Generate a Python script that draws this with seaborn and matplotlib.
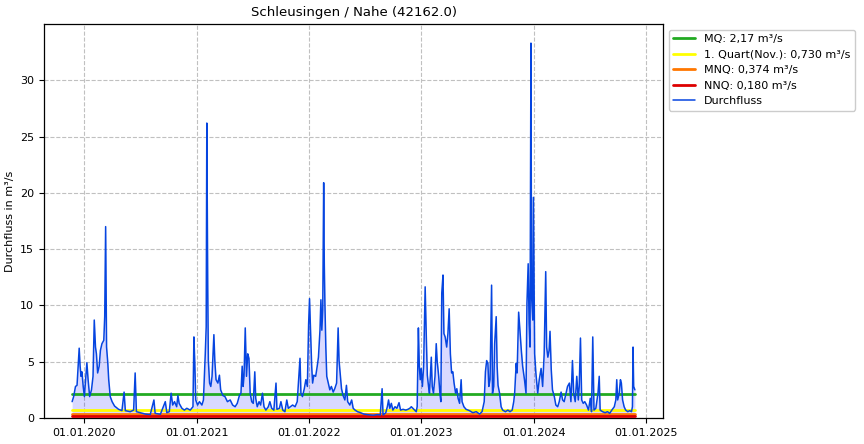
import matplotlib
matplotlib.use("Agg")
import matplotlib.pyplot as plt
import matplotlib.dates as mdates
import seaborn as sns
import pandas as pd

title = "Schleusingen / Nahe (42162.0)"
ylabel = "Durchfluss in m³/s"
flow_label = "Durchfluss"

ref_names = ["MQ: 2,17 m³/s", "1. Quart(Nov.): 0,730 m³/s", "MNQ: 0,374 m³/s", "NNQ: 0,180 m³/s"]
ref_values = [2.17, 0.730, 0.374, 0.180]
ref_colors = ["#22aa22", "#ffff00", "#ff7700", "#dd0000"]

tick_years = ["2020-01-01", "2021-01-01", "2022-01-01", "2023-01-01", "2024-01-01", "2025-01-01"]

dates_a = ["2019-11-22","2019-11-27","2019-12-03","2019-12-08","2019-12-11","2019-12-15","2019-12-18","2019-12-21","2019-12-24","2019-12-28",
           "2020-01-01","2020-01-04","2020-01-09","2020-01-13","2020-01-18","2020-01-24","2020-01-29","2020-02-02","2020-02-06","2020-02-09",
           "2020-02-13","2020-02-18","2020-02-22","2020-02-27","2020-03-04","2020-03-07","2020-03-10","2020-03-13","2020-03-17","2020-03-20",
           "2020-03-25","2020-03-31","2020-04-08","2020-04-21","2020-05-02","2020-05-09","2020-05-13","2020-05-29","2020-06-09","2020-06-14",
           "2020-06-18","2020-07-01","2020-07-17","2020-08-02","2020-08-14","2020-08-18","2020-09-04","2020-09-20","2020-09-25","2020-10-03",
           "2020-10-09","2020-10-14","2020-10-20","2020-10-27","2020-10-31","2020-11-04","2020-11-13","2020-11-21"]
flow_a = [1.45,1.9,2.8,2.9,4.3,6.2,4.6,3.7,4.1,2.8,
          1.9,3.1,4.9,3.4,1.9,2.5,3.7,8.7,6.3,5.7,
          4.0,4.6,6.0,6.6,6.9,9.0,17.0,6.3,4.9,3.4,
          1.9,1.45,1.06,0.77,0.65,2.3,0.65,0.56,0.7,4.0,
          0.56,0.47,0.35,0.3,1.6,0.41,0.33,1.45,0.47,0.56,
          2.2,1.15,1.45,1.0,2.0,1.3,0.86,0.7]

dates_b = ["2020-11-29","2020-12-10","2020-12-19","2020-12-22","2020-12-25","2020-12-28","2021-01-03","2021-01-09","2021-01-17","2021-01-22",
           "2021-01-28","2021-01-31","2021-02-02","2021-02-05","2021-02-07","2021-02-11","2021-02-15","2021-02-19","2021-02-25","2021-02-28",
           "2021-03-04","2021-03-10","2021-03-15","2021-03-19","2021-03-26","2021-04-02","2021-04-10","2021-04-19","2021-04-27","2021-05-05",
           "2021-05-12","2021-05-19","2021-05-24","2021-05-28","2021-05-31","2021-06-03","2021-06-07","2021-06-11","2021-06-15","2021-06-19",
           "2021-06-23","2021-06-28","2021-07-03","2021-07-08","2021-07-11","2021-07-16","2021-07-22","2021-07-27","2021-08-02","2021-08-07",
           "2021-08-13","2021-08-21","2021-08-26","2021-09-01","2021-09-08","2021-09-15","2021-09-18","2021-09-26","2021-10-01","2021-10-07",
           "2021-10-14","2021-10-20","2021-10-25","2021-11-01","2021-11-08","2021-11-16","2021-11-23"]
flow_b = [0.86,0.7,1.0,7.2,4.85,1.6,1.15,1.45,1.15,1.6,
          5.7,8.1,26.2,11.7,5.1,3.1,2.8,3.7,7.4,5.1,
          3.4,3.1,3.8,2.5,2.0,1.9,1.45,1.6,1.15,1.0,
          1.3,2.0,2.2,4.6,2.8,3.7,8.0,3.7,5.7,5.3,
          2.2,1.45,1.3,4.1,1.75,1.0,1.45,1.15,2.2,1.0,
          0.7,1.0,1.45,0.86,0.7,3.1,0.77,0.86,1.45,0.7,
          0.56,1.6,0.86,1.0,1.15,1.0,1.45]

dates_c = ["2021-12-02","2021-12-05","2021-12-10","2021-12-16","2021-12-21","2021-12-26","2021-12-30","2022-01-02","2022-01-05","2022-01-09",
           "2022-01-12","2022-01-16","2022-01-22","2022-01-27","2022-01-31","2022-02-05","2022-02-08","2022-02-11","2022-02-14","2022-02-17",
           "2022-02-19","2022-02-21","2022-02-24","2022-02-27","2022-03-04","2022-03-09","2022-03-14","2022-03-20","2022-03-25","2022-03-31",
           "2022-04-05","2022-04-08","2022-04-12","2022-04-16","2022-04-21","2022-04-27","2022-05-02","2022-05-06","2022-05-13","2022-05-19",
           "2022-05-24","2022-05-30","2022-06-07","2022-06-17","2022-06-27","2022-07-08","2022-07-19","2022-07-28","2022-08-10","2022-08-20",
           "2022-08-26","2022-08-29","2022-09-07","2022-09-12","2022-09-16","2022-09-20","2022-09-25","2022-09-30","2022-10-07","2022-10-13",
           "2022-10-20","2022-10-25","2022-11-02","2022-11-11","2022-11-18"]
flow_c = [5.3,2.2,1.9,2.6,3.4,2.8,8.3,10.6,8.1,4.6,
          3.1,3.8,3.7,4.6,5.4,7.8,10.5,7.8,9.6,20.9,
          13.7,10.2,6.3,3.7,3.1,2.5,2.8,2.3,2.6,3.1,
          8.0,5.1,3.8,2.6,2.0,1.6,2.9,1.45,1.15,1.6,
          0.86,0.7,0.56,0.47,0.35,0.3,0.27,0.24,0.3,0.27,
          2.6,0.27,0.47,1.0,1.6,0.86,1.3,0.7,1.0,0.86,
          1.36,0.7,0.77,0.7,0.77]

dates_d = ["2022-11-24","2022-11-29","2022-12-04","2022-12-10","2022-12-15","2022-12-18","2022-12-22","2022-12-25","2022-12-28","2022-12-31",
           "2023-01-04","2023-01-08","2023-01-11","2023-01-13","2023-01-17","2023-01-20","2023-01-24","2023-01-27","2023-02-02","2023-02-05",
           "2023-02-09","2023-02-14","2023-02-18","2023-02-21","2023-02-26","2023-03-02","2023-03-05","2023-03-08","2023-03-12","2023-03-15",
           "2023-03-19","2023-03-24","2023-03-28","2023-04-01","2023-04-05","2023-04-09","2023-04-13","2023-04-17","2023-04-22","2023-04-26",
           "2023-04-30","2023-05-05","2023-05-10","2023-05-13","2023-05-19","2023-05-26","2023-06-06","2023-06-17","2023-06-28","2023-07-09",
           "2023-07-17","2023-07-24","2023-07-28","2023-08-01","2023-08-05","2023-08-08","2023-08-12","2023-08-17","2023-08-20","2023-08-24",
           "2023-08-27","2023-09-01","2023-09-04","2023-09-07","2023-09-12","2023-09-17","2023-09-22","2023-10-01","2023-10-09","2023-10-16",
           "2023-10-23","2023-10-28","2023-10-31","2023-11-05","2023-11-08"]
flow_d = [0.86,1.0,0.86,0.7,0.56,1.0,8.0,4.6,3.4,4.4,
          2.8,4.6,8.7,11.65,6.9,3.8,2.8,2.2,5.4,2.8,
          2.2,3.7,6.6,5.1,3.7,2.2,1.45,11.1,12.7,7.5,
          7.2,6.3,7.5,9.7,5.7,4.0,4.1,3.1,2.2,2.6,
          1.75,1.3,3.4,1.45,1.0,0.77,0.65,0.47,0.56,0.35,
          0.56,1.45,4.1,5.1,4.85,2.8,3.4,11.8,2.2,2.8,
          6.6,9.0,4.6,2.9,2.2,1.0,0.7,0.56,0.7,0.56,
          0.7,1.45,2.2,4.85,4.0]

dates_e = ["2023-11-13","2023-11-18","2023-11-22","2023-11-26","2023-12-02","2023-12-07","2023-12-10","2023-12-14","2023-12-17","2023-12-20",
           "2023-12-23","2023-12-25","2023-12-29","2023-12-31","2024-01-04","2024-01-08","2024-01-14","2024-01-19","2024-01-25","2024-01-30",
           "2024-02-04","2024-02-09","2024-02-12","2024-02-16","2024-02-20","2024-02-23","2024-02-27","2024-03-02","2024-03-08","2024-03-13",
           "2024-03-19","2024-03-24","2024-03-30","2024-04-04","2024-04-09","2024-04-15","2024-04-20","2024-04-26","2024-05-01","2024-05-06",
           "2024-05-10","2024-05-15","2024-05-20","2024-05-25","2024-05-28","2024-06-01","2024-06-05","2024-06-10","2024-06-15","2024-06-21",
           "2024-06-27","2024-07-03","2024-07-07","2024-07-11","2024-07-15","2024-07-21","2024-07-28","2024-08-01","2024-08-04","2024-08-12",
           "2024-08-20","2024-08-28","2024-09-04","2024-09-11","2024-09-19","2024-09-24","2024-09-27","2024-09-30","2024-10-05","2024-10-09",
           "2024-10-12","2024-10-16","2024-10-21","2024-10-26","2024-11-02","2024-11-08","2024-11-14","2024-11-17","2024-11-19","2024-11-21",
           "2024-11-25"]
flow_e = [9.4,7.5,5.9,4.6,3.4,2.2,10.2,13.7,8.4,6.3,
          33.3,10.8,8.7,19.6,5.7,4.0,2.2,3.4,4.4,2.8,
          5.7,13.0,6.3,5.4,6.0,7.7,4.3,2.5,1.9,1.15,
          1.0,1.45,2.3,1.6,1.45,2.2,2.8,3.1,1.45,5.1,
          2.2,1.45,3.7,1.6,2.8,7.1,1.6,1.3,1.45,1.15,
          0.7,1.75,0.56,7.2,0.7,0.86,2.2,3.7,0.7,0.56,
          0.47,0.56,0.41,0.7,1.0,1.6,3.4,1.6,2.2,3.4,
          3.1,1.6,1.0,0.7,0.56,0.65,0.56,1.0,6.3,2.8,
          2.5]

df = pd.DataFrame({
    "date": pd.to_datetime(dates_a + dates_b + dates_c + dates_d + dates_e),
    "flow": flow_a + flow_b + flow_c + flow_d + flow_e,
})

sns.set_style("white")
plt.rcParams["font.family"] = ["DejaVu Sans"]
plt.rcParams["text.color"] = "black"
plt.rcParams["axes.labelcolor"] = "black"
plt.rcParams["xtick.color"] = "black"
plt.rcParams["ytick.color"] = "black"

fig = plt.figure(figsize=(8.64, 4.44), dpi=100)
ax = fig.add_axes([0.0509, 0.0586, 0.7165, 0.8874])

line_color = "#0645e0"
start, end = df["date"].iloc[0], df["date"].iloc[-1]
for name, val, col in zip(ref_names, ref_values, ref_colors):
    ref_df = pd.DataFrame({"date": [start, end], "flow": [val, val]})
    sns.lineplot(data=ref_df, x="date", y="flow", ax=ax, color=col, lw=2, label=name, zorder=3)

ax.fill_between(df["date"], df["flow"], 0, color="blue", alpha=0.15, lw=0, zorder=1)
sns.lineplot(data=df, x="date", y="flow", ax=ax, color=line_color, lw=1.1, label=flow_label,
             estimator=None, zorder=4)

ax.set_ylim(0, 35)
span = end - start
ax.set_xlim(start - span * 0.05, end + span * 0.05)
ax.set_xticks(pd.to_datetime(tick_years))
ax.xaxis.set_major_formatter(mdates.DateFormatter("%d.%m.%Y"))
ax.set_yticks([0, 5, 10, 15, 20, 25, 30])
ax.tick_params(axis="both", labelsize=8, length=3.5, width=0.8, direction="out",
               bottom=True, left=True, colors="black")
ax.grid(True, color="#c0c0c0", linestyle="--", linewidth=0.8)
ax.set_axisbelow(True)
for s in ax.spines.values():
    s.set_color("black")
    s.set_linewidth(0.9)

ax.set_xlabel("")
ax.set_ylabel(ylabel, fontsize=8, color="black")
ax.set_title(title, fontsize=9.5, color="black")

leg = ax.legend(loc="upper left", bbox_to_anchor=(1.0, 1.0), fontsize=8, frameon=True,
                edgecolor="#cccccc", fancybox=True, framealpha=1)
for t in leg.get_texts():
    t.set_color("black")

fig.savefig("out.png", dpi=100)
